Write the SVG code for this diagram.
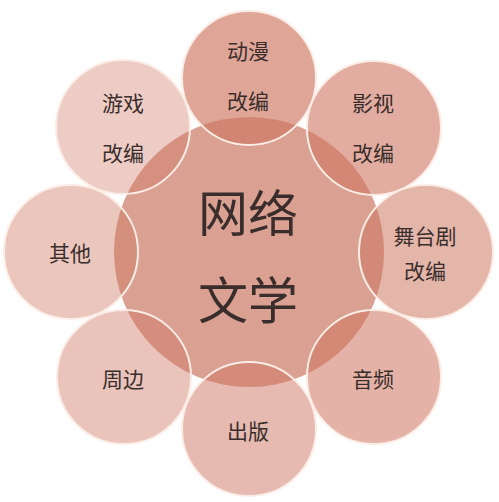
<svg xmlns="http://www.w3.org/2000/svg" width="499" height="502" viewBox="0 0 499 502">
<style>
.bg{fill:#ffffff}
.center{fill:#DAA092}
.petal{fill:#CE7661;stroke:#FBEDE6;stroke-width:2}
.lbl{font-family:"Noto Sans CJK SC","Noto Sans CJK JP",sans-serif;font-size:21px;fill:#3A2E2C;text-anchor:middle;dominant-baseline:central}
.big{font-family:"Noto Sans CJK SC","Noto Sans CJK JP",sans-serif;font-size:50px;fill:#3A2E2C;text-anchor:middle;dominant-baseline:central}
</style>
<rect class="bg" width="499" height="502"/>
<g id="center-node">
<circle class="center" cx="249" cy="252" r="135"/>
</g>
<g id="connectors"></g>
<g id="n-dongman"><circle class="petal" cx="249" cy="78" r="67" fill-opacity="0.65"/></g>
<g id="n-yingshi"><circle class="petal" cx="374" cy="128" r="67" fill-opacity="0.6"/></g>
<g id="n-wutaiju"><circle class="petal" cx="426" cy="252" r="67" fill-opacity="0.54"/></g>
<g id="n-yinpin"><circle class="petal" cx="374" cy="377" r="67" fill-opacity="0.56"/></g>
<g id="n-chuban"><circle class="petal" cx="249" cy="429" r="67" fill-opacity="0.5"/></g>
<g id="n-zhoubian"><circle class="petal" cx="124" cy="377" r="67" fill-opacity="0.43"/></g>
<g id="n-qita"><circle class="petal" cx="71" cy="252" r="67" fill-opacity="0.42"/></g>
<g id="n-youxi"><circle class="petal" cx="123" cy="127" r="67" fill-opacity="0.37"/></g>
<g id="labels">
<text class="big" x="248" y="210">网络</text>
<text class="big" x="248" y="297">文学</text>
<text class="lbl" x="248" y="50">动漫</text>
<text class="lbl" x="248" y="100">改编</text>
<text class="lbl" x="373" y="102">影视</text>
<text class="lbl" x="373" y="152">改编</text>
<text class="lbl" x="425" y="235">舞台剧</text>
<text class="lbl" x="425" y="270">改编</text>
<text class="lbl" x="373" y="378">音频</text>
<text class="lbl" x="248" y="430">出版</text>
<text class="lbl" x="123" y="378">周边</text>
<text class="lbl" x="70" y="252">其他</text>
<text class="lbl" x="123" y="102">游戏</text>
<text class="lbl" x="123" y="152">改编</text>
</g>
</svg>
